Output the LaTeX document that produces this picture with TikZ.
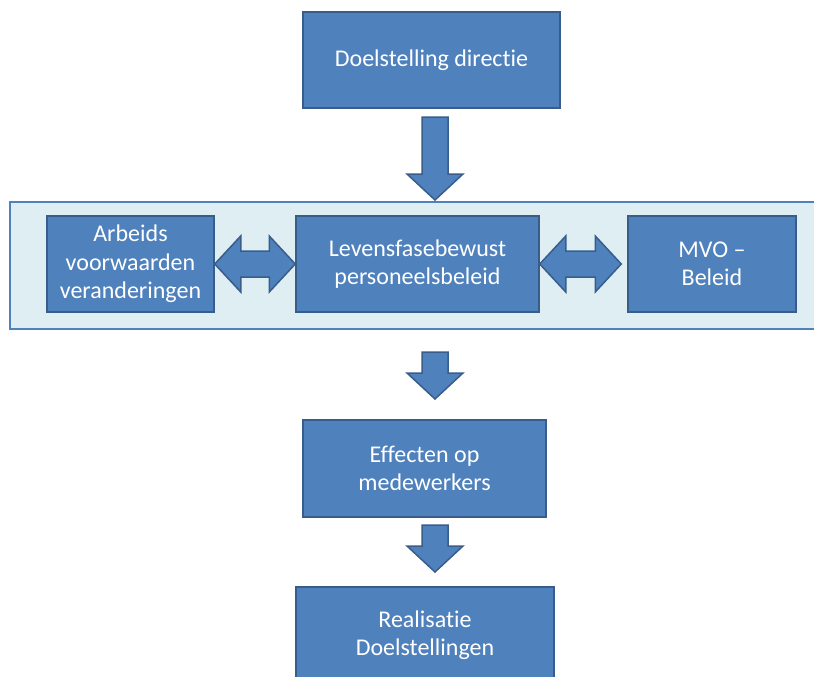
\documentclass[tikz,border=0pt]{standalone}
\usepackage{fontspec}
\setmainfont{Carlito}[Ligatures=NoCommon]
\usetikzlibrary{calc}

\definecolor{boxblue}{RGB}{79,129,189}
\definecolor{boxline}{RGB}{56,93,138}
\definecolor{panelfill}{RGB}{222,238,243}

% shaft half width, head half width, head length
\def\sw{13}
\def\hw{28}
\def\hl{26}

% block arrow down: from shaft top to tip
\newcommand\dnarrow[2]{%
  \draw[blockarrow] let \p1 = (#1), \p2 = (#2) in
  (\x2-\sw pt,\y1) -- (\x2+\sw pt,\y1) -- (\x2+\sw pt,\y2+\hl pt)
  -- (\x2+\hw pt,\y2+\hl pt) -- (\x2,\y2) -- (\x2-\hw pt,\y2+\hl pt)
  -- (\x2-\sw pt,\y2+\hl pt) -- cycle;}

% block arrow both ways: from left tip to right tip
\newcommand\lrarrow[2]{%
  \draw[blockarrow] let \p1 = (#1), \p2 = (#2) in
  (\x1,\y1) -- (\x1+\hl pt,\y1+\hw pt) -- (\x1+\hl pt,\y1+\sw pt)
  -- (\x2-\hl pt,\y1+\sw pt) -- (\x2-\hl pt,\y1+\hw pt) -- (\x2,\y1)
  -- (\x2-\hl pt,\y1-\hw pt) -- (\x2-\hl pt,\y1-\sw pt)
  -- (\x1+\hl pt,\y1-\sw pt) -- (\x1+\hl pt,\y1-\hw pt) -- cycle;}

\begin{document}
\begin{tikzpicture}[x = 1pt,
  y = -1pt,
  box/.style = {draw=boxline, fill=boxblue, line width=1.5pt, text=white,
    align=center, inner sep=0pt, minimum height=96pt,
    font=\fontsize{24}{28.5}\selectfont},
  panel/.style = {draw=boxblue, fill=panelfill, line width=1.5pt,
    inner sep=0pt},
  blockarrow/.style = {draw=boxline, fill=boxblue, line width=1.5pt,
    line join=miter}]

  \useasboundingbox (0,0) rectangle (814,677);
  \clip (0,0) rectangle (814,677);

  % band behind the middle row
  \node[panel, minimum width=810pt, minimum height=127pt] (band) at (415,265.5) {};

  % boxes
  \node[box, minimum width=257pt] (doel) at (431.5,60) {Doelstelling directie};
  \node[box, minimum width=167pt] (arbeid) at (130.5,264)
  {Arbeids\\voorwaarden\\veranderingen};
  \node[box, minimum width=243pt] (levens) at (417.5,264)
  {Levensfasebewust\\personeelsbeleid};
  \node[box, minimum width=168pt] (mvo) at (712,264) {MVO --\\Beleid};
  \node[box, minimum width=243pt, minimum height=97pt] (effect) at (424.5,468.5)
  {Effecten op\\medewerkers};
  \node[box, minimum width=258pt] (real) at (425,635)
  {Realisatie\\Doelstellingen};

  % ends of the down arrows
  \coordinate (d1) at (435,117);
  \coordinate (e1) at (435,200);
  \coordinate (d2) at (435,352);
  \coordinate (e2) at (435,399);
  \coordinate (d3) at (435,525);
  \coordinate (e3) at (435,572);

  % arrows
  \foreach \s/\t in {d1/e1, d2/e2, d3/e3}
  \dnarrow{\s}{\t};

  \lrarrow{arbeid.east}{levens.west}
  \lrarrow{levens.east}{$(mvo.west)+(-6,0)$}
\end{tikzpicture}
\end{document}
